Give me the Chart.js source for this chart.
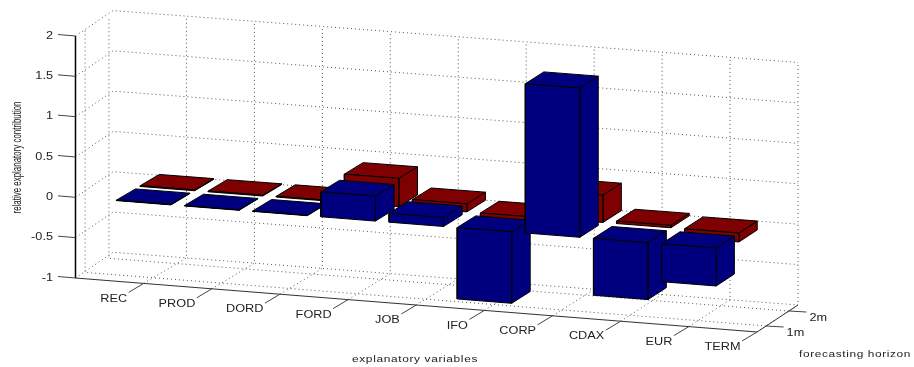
<!DOCTYPE html>
<html>
<head>
<meta charset="utf-8">
<style>
html, body { margin: 0; padding: 0; background: #fff; }
canvas { display: block; }
</style>
<script src="https://cdn.jsdelivr.net/npm/chart.js@4/dist/chart.umd.min.js"></script>
</head>
<body>
<canvas id="chart" width="914" height="367"></canvas>
<script>
// values, TERM has no bars
const categories = ['REC', 'PROD', 'DORD', 'FORD', 'JOB', 'IFO', 'CORP', 'CDAX', 'EUR', 'TERM'];
const horizons = ['1m', '2m'];
const valueTicks = [-1, -0.5, 0, 0.5, 1, 1.5, 2];
const values1m = [0.005, 0.005, 0.005, 0.31, 0.11, -0.885, 1.85, -0.705, -0.47, null];
const values2m = [0.01, 0.01, 0.01, 0.35, 0.1, -0.05, 0.34, 0.03, -0.11, null];

const BLUE = '#00007f';
const RED = '#7f0000';
const BAR_WIDTH = 0.8;

// corners of the 3D box, as positions on the flat x/y scales below
const floorFront = [[75.5, 278], [757, 332]];
const floorBack = [[118.5, 252.7], [798, 305]];
const topFront = [[75.5, 36], [757, 90]];
const topBack = [[118.5, 11], [798, 62.5]];
const xRange = [0, 10];
const yRange = [0.6, 2.4];
const zRange = [-1, 2];
const backCornerX = -0.08;

function lerp(a, b, t) {
    return [a[0] + (b[0] - a[0]) * t, a[1] + (b[1] - a[1]) * t];
}

function project(x, y, z) {
    const u = (x - xRange[0]) / (xRange[1] - xRange[0]);
    const v = (y - yRange[0]) / (yRange[1] - yRange[0]);
    const w = (z - zRange[0]) / (zRange[1] - zRange[0]);
    const floor = lerp(lerp(floorFront[0], floorFront[1], u), lerp(floorBack[0], floorBack[1], u), v);
    const top = lerp(lerp(topFront[0], topFront[1], u), lerp(topBack[0], topBack[1], u), v);
    const p = lerp(floor, top, w);
    return { x: p[0], y: p[1] };
}

const datasets = [];

function addLine(points, color, width, dash) {
    datasets.push({
        data: points, showLine: true, fill: false, pointRadius: 0,
        borderColor: color, borderWidth: width, borderDash: dash || [], tension: 0
    });
}

function addFace(points, color) {
    datasets.push({
        data: points.concat([points[0]]), showLine: true, fill: 'shape', pointRadius: 0,
        backgroundColor: color, borderColor: '#000', borderWidth: 1, tension: 0
    });
}

// 1. dotted box grid
const DOT = [1, 3];
const GRID = '#555';
categories.forEach((c, i) => {
    const x = i + 1;
    addLine([project(x, yRange[0], -1), project(x, yRange[1], -1), project(x, yRange[1], 2)], GRID, 1, DOT);
});
horizons.forEach((h, i) => {
    const y = i + 1;
    addLine([project(10, y, -1), project(0, y, -1), project(0, y, 2)], GRID, 1, DOT);
});
valueTicks.forEach(z => {
    addLine([project(0, yRange[0], z), project(backCornerX, yRange[1], z), project(10, yRange[1], z)], GRID, 1, DOT);
});

// 2. axes and tick marks
addLine([project(0, yRange[0], -1), project(0, yRange[0], 2)], '#000', 1.5);
addLine([project(0, yRange[0], -1), project(10, yRange[0], -1)], '#333', 1.2);
addLine([project(10, yRange[0], -1), project(10, yRange[1], -1)], '#333', 1);
valueTicks.forEach(z => {
    const p = project(0, yRange[0], z);
    addLine([p, { x: p.x - 17.5, y: p.y - 1.5 }], '#444', 1);
});
categories.forEach((c, i) => {
    const p = project(i + 1, yRange[0], -1);
    addLine([p, { x: p.x - 15, y: p.y + 9 }], '#444', 1);
});
horizons.forEach((h, i) => {
    const p = project(10, i + 1, -1);
    addLine([p, { x: p.x + 17.5, y: p.y + 1 }], '#444', 1);
});

// 3. bars, back row first, left to right
function addBar(i, row, value, color) {
    if (value === null) return;
    const x0 = i + 1 - BAR_WIDTH / 2, x1 = i + 1 + BAR_WIDTH / 2;
    const y0 = row - BAR_WIDTH / 2, y1 = row + BAR_WIDTH / 2;
    const hi = Math.max(0, value), lo = Math.min(0, value);
    addFace([project(x1, y0, lo), project(x1, y1, lo), project(x1, y1, hi), project(x1, y0, hi)], color);
    addFace([project(x0, y0, hi), project(x1, y0, hi), project(x1, y1, hi), project(x0, y1, hi)], color);
    addFace([project(x0, y0, lo), project(x1, y0, lo), project(x1, y0, hi), project(x0, y0, hi)], color);
}
values2m.forEach((v, i) => addBar(i, 2, v, RED));
values1m.forEach((v, i) => addBar(i, 1, v, BLUE));

// chart.js paints the first dataset last
datasets.reverse();

function drawText(ctx, chart, text, px, py, opts) {
    const sx = chart.scales.x.getPixelForValue(px);
    const sy = chart.scales.y.getPixelForValue(py);
    ctx.save();
    ctx.font = (opts.size || 10) + 'px "Liberation Sans", Arial, sans-serif';
    ctx.fillStyle = opts.color || '#222';
    ctx.textBaseline = 'middle';
    ctx.textAlign = opts.align || 'center';
    ctx.letterSpacing = opts.spacing || '0px';
    ctx.translate(sx, sy);
    if (opts.rotate) ctx.rotate(opts.rotate);
    const stretch = opts.width ? opts.width / ctx.measureText(text).width : (opts.stretch || 1.27);
    ctx.scale(stretch, 1);
    ctx.fillText(text, 0, 0);
    ctx.restore();
}

const labelsPlugin = {
    id: 'boxLabels',
    afterDraw(chart) {
        const ctx = chart.ctx;
        valueTicks.forEach(z => {
            const p = project(0, yRange[0], z);
            drawText(ctx, chart, String(z), p.x - 22.5, p.y, { align: 'right' });
        });
        categories.forEach((c, i) => {
            const p = project(i + 1, yRange[0], -1);
            drawText(ctx, chart, c, p.x - 16.5, p.y + 15.5, { align: 'right' });
        });
        horizons.forEach((h, i) => {
            const p = project(10, i + 1, -1);
            drawText(ctx, chart, h, p.x + 20.5, p.y + 7, { align: 'left' });
        });
        drawText(ctx, chart, 'explanatory variables', 415, 359.5, { size: 9.5, spacing: '0.5px', width: 126 });
        drawText(ctx, chart, 'forecasting horizon', 855, 354.5, { size: 9.5, spacing: '0.5px', width: 112 });
        drawText(ctx, chart, 'relative explanatory contribution', 17.5, 157.5, { size: 13, rotate: -Math.PI / 2, width: 112 });
    }
};

new Chart(document.getElementById('chart'), {
    type: 'scatter',
    data: { datasets: datasets },
    plugins: [labelsPlugin],
    options: {
        responsive: false,
        animation: false,
        events: [],
        clip: false,
        layout: { padding: 0 },
        plugins: { legend: { display: false }, tooltip: { enabled: false } },
        scales: {
            x: { type: 'linear', display: false, min: 0, max: 914 },
            y: { type: 'linear', display: false, min: 0, max: 367, reverse: true }
        }
    }
});
</script>
</body>
</html>
